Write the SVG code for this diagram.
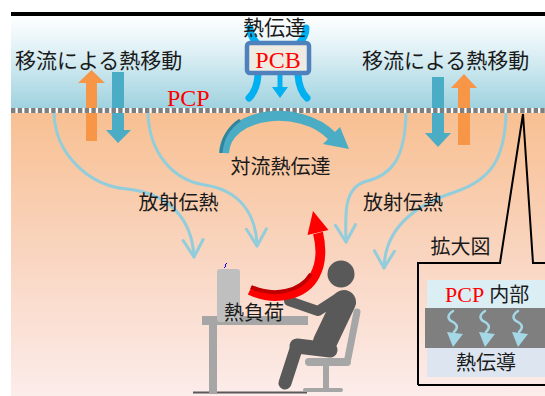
<svg xmlns="http://www.w3.org/2000/svg" width="545" height="396" viewBox="0 0 545 396">
  <defs>
    <linearGradient id="air" x1="0" y1="16" x2="0" y2="108" gradientUnits="userSpaceOnUse">
      <stop offset="0" stop-color="#ffffff"/>
      <stop offset="0.35" stop-color="#e2f2f6"/>
      <stop offset="1" stop-color="#9fd2df"/>
    </linearGradient>
    <linearGradient id="room" x1="0" y1="113" x2="0" y2="395" gradientUnits="userSpaceOnUse">
      <stop offset="0" stop-color="#f8c092"/>
      <stop offset="0.5" stop-color="#f9d5c0"/>
      <stop offset="1" stop-color="#fcecea"/>
    </linearGradient>
    <marker id="vhead" markerUnits="userSpaceOnUse" markerWidth="30" markerHeight="30" refX="0" refY="0" viewBox="-20 -15 25 30" orient="auto" overflow="visible">
      <path d="M-17,-10 L0,0 L-17,10" fill="none" stroke="#92cddc" stroke-width="3" stroke-linecap="round" stroke-linejoin="round"/>
    </marker>
  </defs>
  <style>
    .jp { font-family: "Noto Sans CJK JP", "Noto Sans", sans-serif; fill: #1a1a1a; }
    .red { font-family: "Liberation Serif", serif; fill: #ff0000; }
    .rad { fill: none; stroke: #92cddc; stroke-width: 3; stroke-linecap: round; marker-end: url(#vhead); }
    .blu { fill: none; stroke: #00b0f0; stroke-width: 7; stroke-linecap: round; }
    .wave { fill: none; stroke: #a5d8e6; stroke-width: 2.5; stroke-linecap: round; }
  </style>

  <!-- backdrop: air above, room below -->
  <rect x="11" y="16" width="534" height="92" fill="url(#air)"/>
  <rect x="11" y="113" width="534" height="283" fill="url(#room)"/>
  <rect x="11" y="12" width="534" height="4" fill="#000"/>

  <!-- heat radiation from the PCP -->
  <g id="connectors">
    <path class="rad" d="M54,113 C55,155 90,186 127,189 C168,193 192,218 194,257"/>
    <path class="rad" d="M148,113 C149,152 172,180 205,185 C238,190 256,212 257,246"/>
    <path class="rad" d="M406,113 C405,158 392,175 367,181 C344,187 345,212 346,242"/>
    <path class="rad" d="M506,113 C505,160 490,180 455,192 C412,206 385,230 384,268"/>
  </g>

  <!-- advection arrows -->
  <g id="advection-left">
    <polygon points="86,141 86,83 78,83 91.5,70 105,83 97,83 97,141" fill="#f79646"/>
    <polygon points="112,72 124,72 124,130 131,130 118,143 106,130 112,130" fill="#4bacc6"/>
  </g>
  <g id="advection-right">
    <polygon points="432,77 444,77 444,133 451,133 438,147 425,133 432,133" fill="#4bacc6"/>
    <polygon points="458,145 458,88 451,88 464,74 477,88 470,88 470,145" fill="#f79646"/>
  </g>

  <!-- PCP surface -->
  <g id="pcp-line">
    <rect x="11" y="108" width="534" height="5" fill="#fff"/>
    <line x1="11" y1="110.5" x2="545" y2="110.5" stroke="#7f7f7f" stroke-width="5" stroke-dasharray="4.4 2.3"/>
  </g>

  <!-- PCB panel with heat transfer -->
  <g id="pcb">
    <path class="blu" d="M256,42 Q250,36 250,28"/>
    <path class="blu" d="M300,42 Q306,36 306,28"/>
    <path class="blu" d="M258,75 Q257,90 249,98"/>
    <path class="blu" d="M298,75 Q299,90 307,98"/>
    <line x1="280" y1="75" x2="280" y2="89" stroke="#00b0f0" stroke-width="5"/>
    <polygon points="272,87 288,87 280,98" fill="#00b0f0"/>
    <rect x="247" y="43" width="62" height="30" rx="3" fill="#eeebe2" stroke="#4f81bd" stroke-width="4.5"/>
    <text class="red" x="278" y="68" font-size="24" text-anchor="middle">PCB</text>
    <text class="jp" x="274.5" y="35" font-size="21" text-anchor="middle">熱伝達</text>
  </g>

  <text class="jp" x="15" y="68" font-size="21">移流による熱移動</text>
  <text class="jp" x="362" y="68" font-size="21">移流による熱移動</text>
  <text class="red" x="167" y="106" font-size="24">PCP</text>

  <!-- convection -->
  <g id="convection">
    <path d="M224,153 C226,112 300,103 332,136" fill="none" stroke="#4bacc6" stroke-width="10"/>
    <path d="M221,153 C222,140 228,128 240,120" fill="none" stroke="#31849b" stroke-width="3"/>
    <polygon points="323,144 340,127 349,149" fill="#4bacc6"/>
    <text class="jp" x="280.5" y="174" font-size="20" text-anchor="middle">対流熱伝達</text>
  </g>

  <text class="jp" x="178.5" y="210" font-size="20" text-anchor="middle">放射伝熱</text>
  <text class="jp" x="403" y="210" font-size="20" text-anchor="middle">放射伝熱</text>

  <!-- desk, monitor, chair, person -->
  <g id="office">
    <line x1="193" y1="392.5" x2="307" y2="392.5" stroke="#595959" stroke-width="2"/>
    <rect x="209" y="323" width="8" height="70" fill="#a6a6a6"/>
    <rect x="202" y="316" width="106" height="9" fill="#a6a6a6"/>
    <rect x="217" y="269" width="23" height="53" rx="3" fill="#bfbfbf"/>
    <path d="M224,268 l2,-2 l-1,-1 l2,-2" fill="none" stroke="#0000ff" stroke-width="1"/>
    <line x1="357" y1="312" x2="348" y2="358" stroke="#a6a6a6" stroke-width="7" stroke-linecap="round"/>
    <rect x="305" y="358" width="46" height="8" rx="4" fill="#a6a6a6"/>
    <rect x="323" y="364" width="6" height="26" fill="#a6a6a6"/>
    <rect x="303" y="388" width="40" height="4" rx="2" fill="#a6a6a6"/>
    <g fill="none" stroke="#595959" stroke-linecap="round" stroke-linejoin="round">
      <line x1="344" y1="302" x2="325" y2="342" stroke-width="24"/>
      <polyline points="289,301 318,311 338,298" stroke-width="10"/>
      <line x1="330" y1="350" x2="297" y2="346" stroke-width="15"/>
      <line x1="297" y1="346" x2="285" y2="383" stroke-width="13"/>
    </g>
    <circle cx="341" cy="274" r="13.5" fill="#595959"/>
  </g>

  <!-- heat load -->
  <g id="heat-load">
    <path d="M250,290 C275,302 305,295 315,275 C322,262 321,245 318,233" fill="none" stroke="#ff0000" stroke-width="10"/>
    <path d="M251,287 C274,297 300,292 311,274" fill="none" stroke="#c00000" stroke-width="4"/>
    <polygon points="307.5,235 328.5,230 313,211" fill="#ff0000"/>
    <text class="jp" x="254" y="320" font-size="20" text-anchor="middle">熱負荷</text>
  </g>

  <!-- magnified view -->
  <g id="detail">
    <path d="M418,385 V263 H500 L523,114 L533,263 H545" fill="none" stroke="#000" stroke-width="2"/>
    <line x1="418" y1="385" x2="545" y2="385" stroke="#000" stroke-width="2"/>
    <text class="jp" x="460.5" y="254" font-size="20" text-anchor="middle">拡大図</text>
    <rect x="427" y="280" width="118" height="28" fill="#dbeef4"/>
    <text x="445" y="302" font-size="22"><tspan class="red">PCP</tspan><tspan class="jp" dx="5" font-size="20">内部</tspan></text>
    <rect x="425" y="308" width="120" height="40" fill="#7f7f7f"/>
    <rect x="427" y="348" width="118" height="29" fill="#dde6f0"/>
    <text class="jp" x="486" y="370" font-size="20" text-anchor="middle">熱伝導</text>
    <g>
      <path class="wave" d="M453,311 c-6,4 -6,8 0,11 c5,3 5,6 1,10"/>
      <polygon points="447,332 463,334 453,347" fill="#a5d8e6"/>
      <path class="wave" d="M485,311 c-6,4 -6,8 0,11 c5,3 5,6 1,10"/>
      <polygon points="479,332 495,334 485,347" fill="#a5d8e6"/>
      <path class="wave" d="M518,311 c-6,4 -6,8 0,11 c5,3 5,6 1,10"/>
      <polygon points="512,332 528,334 518,347" fill="#a5d8e6"/>
    </g>
  </g>
</svg>
